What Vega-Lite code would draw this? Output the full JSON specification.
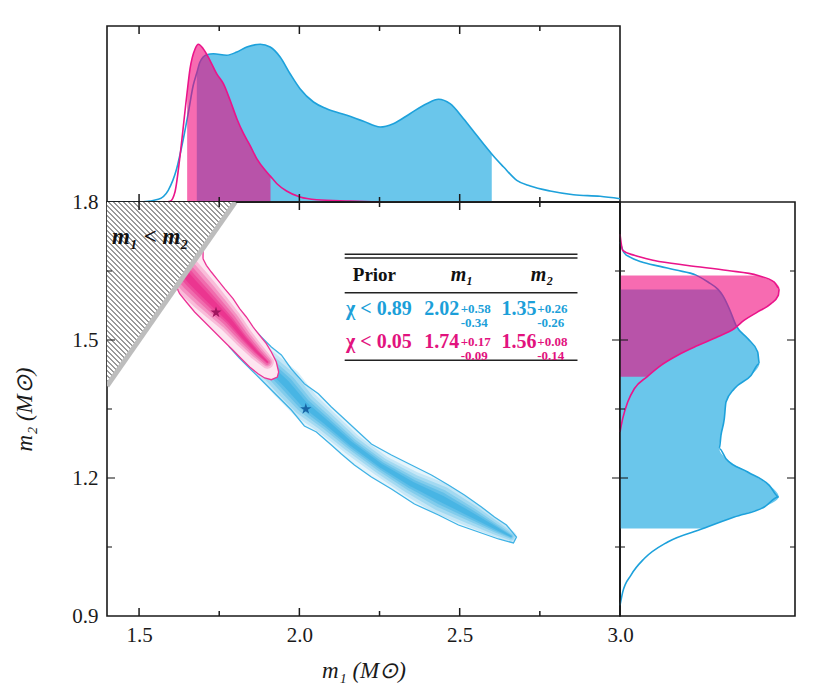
{
"$schema": "https://vega.github.io/schema/vega-lite/v6.json",
"padding": {"left": 12, "top": 24, "right": 5, "bottom": 5},
"bounds": "flush",
"spacing": 0,
"resolve": {"scale": {"x": "independent", "y": "independent"}},
"datasets": {
"blueTop": [{"m1":1.4,"d":0},{"m1":1.513,"d":0.3},{"m1":1.56,"d":2.7},{"m1":1.591,"d":11.7},{"m1":1.617,"d":33},{"m1":1.638,"d":63},{"m1":1.654,"d":90},{"m1":1.669,"d":116.7},{"m1":1.68,"d":129},{"m1":1.69,"d":140},{"m1":1.711,"d":147.3},{"m1":1.732,"d":148.3},{"m1":1.773,"d":146.7},{"m1":1.805,"d":150},{"m1":1.836,"d":155},{"m1":1.878,"d":157.7},{"m1":1.909,"d":155},{"m1":1.94,"d":145},{"m1":1.971,"d":128.3},{"m1":2.002,"d":113.3},{"m1":2.044,"d":100},{"m1":2.085,"d":93.3},{"m1":2.148,"d":86.7},{"m1":2.2,"d":80.7},{"m1":2.252,"d":75},{"m1":2.293,"d":78.3},{"m1":2.345,"d":88.3},{"m1":2.397,"d":98.3},{"m1":2.434,"d":102.7},{"m1":2.47,"d":98.3},{"m1":2.512,"d":83.3},{"m1":2.553,"d":66.7},{"m1":2.595,"d":50},{"m1":2.6,"d":48},{"m1":2.637,"d":35},{"m1":2.678,"d":21.7},{"m1":2.72,"d":16},{"m1":2.782,"d":11},{"m1":2.855,"d":7.3},{"m1":2.938,"d":5.7},{"m1":3.0,"d":3.3}],
"pinkTop": [{"m1":1.58,"d":0},{"m1":1.597,"d":0.7},{"m1":1.612,"d":10},{"m1":1.628,"d":46.7},{"m1":1.643,"d":90},{"m1":1.65,"d":110},{"m1":1.659,"d":133.3},{"m1":1.675,"d":153.3},{"m1":1.685,"d":157.7},{"m1":1.7,"d":153.3},{"m1":1.721,"d":141.7},{"m1":1.742,"d":128.3},{"m1":1.763,"d":118.3},{"m1":1.784,"d":101.7},{"m1":1.805,"d":83.3},{"m1":1.826,"d":68.3},{"m1":1.846,"d":56.7},{"m1":1.867,"d":43.3},{"m1":1.898,"d":30},{"m1":1.91,"d":25.6},{"m1":1.93,"d":18.3},{"m1":1.96,"d":11},{"m1":2.002,"d":5},{"m1":2.054,"d":2.3},{"m1":2.158,"d":1},{"m1":2.25,"d":0}],
"blueRight": [{"m2":0.923,"d":0},{"m2":0.952,"d":2.7},{"m2":0.989,"d":11},{"m2":1.025,"d":24.3},{"m2":1.061,"d":47.7},{"m2":1.09,"d":83},{"m2":1.115,"d":114.3},{"m2":1.137,"d":144.3},{"m2":1.159,"d":158.7},{"m2":1.184,"d":149.3},{"m2":1.213,"d":127.7},{"m2":1.242,"d":106},{"m2":1.264,"d":99.3},{"m2":1.293,"d":101},{"m2":1.329,"d":104.3},{"m2":1.365,"d":106},{"m2":1.394,"d":114.3},{"m2":1.423,"d":131},{"m2":1.449,"d":139.3},{"m2":1.474,"d":137.7},{"m2":1.503,"d":127.7},{"m2":1.532,"d":116},{"m2":1.568,"d":109.3},{"m2":1.597,"d":102.7},{"m2":1.61,"d":98},{"m2":1.626,"d":88},{"m2":1.641,"d":76},{"m2":1.652,"d":56},{"m2":1.66,"d":40},{"m2":1.67,"d":21},{"m2":1.68,"d":10},{"m2":1.69,"d":4},{"m2":1.713,"d":0}],
"pinkRight": [{"m2":1.3,"d":0},{"m2":1.329,"d":2.7},{"m2":1.365,"d":7.7},{"m2":1.394,"d":14.3},{"m2":1.42,"d":27},{"m2":1.445,"d":41},{"m2":1.467,"d":57.7},{"m2":1.488,"d":77.7},{"m2":1.507,"d":97.7},{"m2":1.525,"d":114.3},{"m2":1.543,"d":124.3},{"m2":1.561,"d":137.7},{"m2":1.579,"d":151},{"m2":1.597,"d":158.3},{"m2":1.612,"d":159.3},{"m2":1.626,"d":154.3},{"m2":1.64,"d":138},{"m2":1.651,"d":107.7},{"m2":1.662,"d":67.7},{"m2":1.673,"d":34.3},{"m2":1.684,"d":14.3},{"m2":1.695,"d":2.7},{"m2":1.713,"d":1},{"m2":1.73,"d":0}],
"blueC": [{"i":0,"m1":1.8097,"m2":1.5565},{"i":1,"m1":1.8502,"m2":1.5304},{"i":2,"m1":1.8814,"m2":1.5065},{"i":3,"m1":1.9126,"m2":1.4848},{"i":4,"m1":1.9438,"m2":1.4674},{"i":5,"m1":1.975,"m2":1.437},{"i":6,"m1":2.0156,"m2":1.405},{"i":7,"m1":2.0593,"m2":1.383},{"i":8,"m1":2.0998,"m2":1.3543},{"i":9,"m1":2.1404,"m2":1.3283},{"i":10,"m1":2.1841,"m2":1.3},{"i":11,"m1":2.2246,"m2":1.2739},{"i":12,"m1":2.2871,"m2":1.25},{"i":13,"m1":2.3494,"m2":1.2283},{"i":14,"m1":2.4119,"m2":1.2065},{"i":15,"m1":2.4649,"m2":1.1848},{"i":16,"m1":2.5148,"m2":1.163},{"i":17,"m1":2.5679,"m2":1.137},{"i":18,"m1":2.6084,"m2":1.1152},{"i":19,"m1":2.6459,"m2":1.0978},{"i":20,"m1":2.6771,"m2":1.0717},{"i":21,"m1":2.6677,"m2":1.0587},{"i":22,"m1":2.6209,"m2":1.0674},{"i":23,"m1":2.5585,"m2":1.0826},{"i":24,"m1":2.4961,"m2":1.0978},{"i":25,"m1":2.4337,"m2":1.1196},{"i":26,"m1":2.3588,"m2":1.1435},{"i":27,"m1":2.2871,"m2":1.1761},{"i":28,"m1":2.2246,"m2":1.2022},{"i":29,"m1":2.1716,"m2":1.2283},{"i":30,"m1":2.131,"m2":1.2522},{"i":31,"m1":2.0998,"m2":1.2717},{"i":32,"m1":2.0531,"m2":1.3},{"i":33,"m1":2.0156,"m2":1.313},{"i":34,"m1":1.975,"m2":1.3478},{"i":35,"m1":1.9282,"m2":1.3804},{"i":36,"m1":1.8877,"m2":1.4087},{"i":37,"m1":1.8502,"m2":1.4348},{"i":38,"m1":1.8128,"m2":1.4609},{"i":39,"m1":1.7816,"m2":1.4848},{"i":40,"m1":1.7722,"m2":1.5174},{"i":41,"m1":1.8097,"m2":1.5565}],
"pinkC": [{"i":0,"m1":1.6995,"m2":1.6768},{"i":1,"m1":1.71,"m2":1.6623},{"i":2,"m1":1.7254,"m2":1.6478},{"i":3,"m1":1.7463,"m2":1.6297},{"i":4,"m1":1.7669,"m2":1.6116},{"i":5,"m1":1.7931,"m2":1.5898},{"i":6,"m1":1.8137,"m2":1.568},{"i":7,"m1":1.8346,"m2":1.55},{"i":8,"m1":1.8555,"m2":1.5283},{"i":9,"m1":1.8761,"m2":1.5102},{"i":10,"m1":1.897,"m2":1.492},{"i":11,"m1":1.9126,"m2":1.4739},{"i":12,"m1":1.9282,"m2":1.4522},{"i":13,"m1":1.9354,"m2":1.4304},{"i":14,"m1":1.9313,"m2":1.4196},{"i":15,"m1":1.9126,"m2":1.4137},{"i":16,"m1":1.8917,"m2":1.4174},{"i":17,"m1":1.8711,"m2":1.4268},{"i":18,"m1":1.8449,"m2":1.4413},{"i":19,"m1":1.819,"m2":1.4594},{"i":20,"m1":1.7931,"m2":1.4776},{"i":21,"m1":1.7669,"m2":1.4957},{"i":22,"m1":1.7357,"m2":1.5174},{"i":23,"m1":1.7045,"m2":1.5391},{"i":24,"m1":1.6733,"m2":1.5609},{"i":25,"m1":1.6474,"m2":1.5826},{"i":26,"m1":1.6265,"m2":1.6007},{"i":27,"m1":1.6215,"m2":1.608},{"i":28,"m1":1.6,"m2":1.65},{"i":29,"m1":1.64,"m2":1.71},{"i":30,"m1":1.7,"m2":1.71},{"i":31,"m1":1.6995,"m2":1.6768}],
"blueR": [{"i":0,"m1":1.8195,"m2":1.5,"dens":0.5},{"i":1,"m1":1.897,"m2":1.447,"dens":0.8},{"i":2,"m1":1.959,"m2":1.405,"dens":1.0},{"i":3,"m1":2.0156,"m2":1.36,"dens":0.85},{"i":4,"m1":2.084,"m2":1.321,"dens":0.65},{"i":5,"m1":2.162,"m2":1.274,"dens":0.5},{"i":6,"m1":2.256,"m2":1.226,"dens":0.5},{"i":7,"m1":2.35,"m2":1.187,"dens":0.7},{"i":8,"m1":2.443,"m2":1.155,"dens":0.95},{"i":9,"m1":2.537,"m2":1.12,"dens":0.65},{"i":10,"m1":2.615,"m2":1.09,"dens":0.3},{"i":11,"m1":2.66,"m2":1.073,"dens":0.05}],
"pinkR": [{"i":0,"m1":1.63,"m2":1.655,"dens":1.0},{"i":1,"m1":1.665,"m2":1.627,"dens":1.0},{"i":2,"m1":1.705,"m2":1.598,"dens":0.9},{"i":3,"m1":1.741,"m2":1.572,"dens":0.75},{"i":4,"m1":1.7816,"m2":1.543,"dens":0.55},{"i":5,"m1":1.8253,"m2":1.506,"dens":0.35},{"i":6,"m1":1.866,"m2":1.475,"dens":0.2},{"i":7,"m1":1.9,"m2":1.452,"dens":0.05}],
"hatch": [{"i":0,"m1":1.4,"m2":1.4},{"i":1,"m1":1.4,"m2":1.8},{"i":2,"m1":1.8,"m2":1.8},{"i":3,"m1":1.4,"m2":1.4}],
"stars": [{"m1":2.02,"m2":1.35,"g":"blue"},{"m1":1.74,"m2":1.56,"g":"pink"}],
"xMaj": [{"m1":1.5},{"m1":2.0},{"m1":2.5}],
"xMin": [{"m1":1.75},{"m1":2.25},{"m1":2.75}],
"yMaj": [{"m2":1.2},{"m2":1.5}],
"yMin": [{"m2":1.05},{"m2":1.35},{"m2":1.65}]
},
"vconcat": [
{
"width": 513, "height": 176,
"layer": [
{"data": {"name": "blueTop"}, "transform": [{"filter": "datum.m1 >= 1.68 && datum.m1 <= 2.6"}],
 "mark": {"type": "area", "color": "#6AC6EB", "opacity": 1, "interpolate": "monotone"},
 "encoding": {"x": {"field": "m1", "type": "quantitative", "scale": {"domain": [1.4, 3.0], "nice": false, "zero": false}, "axis": null},
              "y": {"field": "d", "type": "quantitative", "scale": {"domain": [0, 176], "nice": false}, "axis": null}}},
{"data": {"name": "blueTop"},
 "mark": {"type": "line", "color": "#1DA1DB", "strokeWidth": 1.6, "interpolate": "monotone"},
 "encoding": {"x": {"field": "m1", "type": "quantitative"}, "y": {"field": "d", "type": "quantitative"}}},
{"data": {"name": "pinkTop"}, "transform": [{"filter": "datum.m1 >= 1.65 && datum.m1 <= 1.91"}],
 "mark": {"type": "area", "color": "#F10079", "opacity": 0.58, "interpolate": "monotone"},
 "encoding": {"x": {"field": "m1", "type": "quantitative"}, "y": {"field": "d", "type": "quantitative"}}},
{"data": {"name": "pinkTop"},
 "mark": {"type": "line", "color": "#EA148A", "strokeWidth": 1.6, "interpolate": "monotone"},
 "encoding": {"x": {"field": "m1", "type": "quantitative"}, "y": {"field": "d", "type": "quantitative"}}},
{"data": {"values": [{}]}, "mark": {"type": "rule", "color": "#1a1a1a", "strokeWidth": 1.6}, "encoding": {"y": {"datum": 0}}},
{"data": {"name": "xMaj"}, "mark": {"type": "rule", "color": "#1a1a1a", "strokeWidth": 1.5, "y2Offset": 8},
 "encoding": {"x": {"field": "m1", "type": "quantitative"}, "y": {"datum": 176}, "y2": {"datum": 176}}},
{"data": {"name": "xMin"}, "mark": {"type": "rule", "color": "#1a1a1a", "strokeWidth": 1.5, "y2Offset": 5},
 "encoding": {"x": {"field": "m1", "type": "quantitative"}, "y": {"datum": 176}, "y2": {"datum": 176}}}
]
},
{
"hconcat": [
{
"width": 513, "height": 414,
"resolve": {"scale": {"size": "independent"}},
"layer": [
{"data": {"name": "blueC"},
 "mark": {"type": "line", "fill": "#E6F5FC", "strokeOpacity": 0},
 "encoding": {
  "x": {"field": "m1", "type": "quantitative", "scale": {"domain": [1.4, 3.0], "nice": false, "zero": false},
        "axis": {"values": [1.5, 2, 2.5, 3], "format": ".1f", "labelFlush": false, "labelOverlap": false, "labelPadding": 8, "labelFontSize": 21, "title": "m₁ (M⊙)", "titleFontSize": 23, "titleFontStyle": "italic", "titleFontWeight": "normal", "titlePadding": 14}},
  "y": {"field": "m2", "type": "quantitative", "scale": {"domain": [0.9, 1.8], "nice": false, "zero": false},
        "axis": {"values": [0.9, 1.2, 1.5, 1.8], "format": ".1f", "labelFlush": false, "labelOverlap": false, "labelPadding": 9, "labelFontSize": 21, "title": "m₂ (M⊙)", "titleFontSize": 23, "titleFontStyle": "italic", "titleFontWeight": "normal", "titlePadding": 35}},
  "order": {"field": "i"}}},
{"data": {"name": "blueR"}, "mark": {"type": "trail", "color": "#1AA3DD", "opacity": 0.16},
 "encoding": {"x": {"field": "m1", "type": "quantitative"}, "y": {"field": "m2", "type": "quantitative"}, "order": {"field": "i"},
  "size": {"field": "dens", "type": "quantitative", "scale": {"domain": [0, 1], "range": [10, 33]}, "legend": null}}},
{"data": {"name": "blueR"}, "mark": {"type": "trail", "color": "#1AA3DD", "opacity": 0.2},
 "encoding": {"x": {"field": "m1", "type": "quantitative"}, "y": {"field": "m2", "type": "quantitative"}, "order": {"field": "i"},
  "size": {"field": "dens", "type": "quantitative", "scale": {"domain": [0, 1], "range": [7, 26]}, "legend": null}}},
{"data": {"name": "blueR"}, "mark": {"type": "trail", "color": "#1AA3DD", "opacity": 0.24},
 "encoding": {"x": {"field": "m1", "type": "quantitative"}, "y": {"field": "m2", "type": "quantitative"}, "order": {"field": "i"},
  "size": {"field": "dens", "type": "quantitative", "scale": {"domain": [0, 1], "range": [4, 19]}, "legend": null}}},
{"data": {"name": "blueR"}, "mark": {"type": "trail", "color": "#1AA3DD", "opacity": 0.3},
 "encoding": {"x": {"field": "m1", "type": "quantitative"}, "y": {"field": "m2", "type": "quantitative"}, "order": {"field": "i"},
  "size": {"field": "dens", "type": "quantitative", "scale": {"domain": [0, 1], "range": [2, 13]}, "legend": null}}},
{"data": {"name": "blueR"}, "mark": {"type": "trail", "color": "#1AA3DD", "opacity": 0.35},
 "encoding": {"x": {"field": "m1", "type": "quantitative"}, "y": {"field": "m2", "type": "quantitative"}, "order": {"field": "i"},
  "size": {"field": "dens", "type": "quantitative", "scale": {"domain": [0, 1], "range": [1, 7]}, "legend": null}}},
{"data": {"name": "blueC"}, "mark": {"type": "line", "color": "#3FB2E5", "strokeWidth": 1.3},
 "encoding": {"x": {"field": "m1", "type": "quantitative"}, "y": {"field": "m2", "type": "quantitative"}, "order": {"field": "i"}}},
{"data": {"name": "pinkC"}, "mark": {"type": "line", "fill": "#FDE6F1", "strokeOpacity": 0},
 "encoding": {"x": {"field": "m1", "type": "quantitative"}, "y": {"field": "m2", "type": "quantitative"}, "order": {"field": "i"}}},
{"data": {"name": "pinkR"}, "mark": {"type": "trail", "color": "#E9147F", "opacity": 0.2},
 "encoding": {"x": {"field": "m1", "type": "quantitative"}, "y": {"field": "m2", "type": "quantitative"}, "order": {"field": "i"},
  "size": {"field": "dens", "type": "quantitative", "scale": {"domain": [0, 1], "range": [12, 34]}, "legend": null}}},
{"data": {"name": "pinkR"}, "mark": {"type": "trail", "color": "#E9147F", "opacity": 0.25},
 "encoding": {"x": {"field": "m1", "type": "quantitative"}, "y": {"field": "m2", "type": "quantitative"}, "order": {"field": "i"},
  "size": {"field": "dens", "type": "quantitative", "scale": {"domain": [0, 1], "range": [8, 27]}, "legend": null}}},
{"data": {"name": "pinkR"}, "mark": {"type": "trail", "color": "#E9147F", "opacity": 0.3},
 "encoding": {"x": {"field": "m1", "type": "quantitative"}, "y": {"field": "m2", "type": "quantitative"}, "order": {"field": "i"},
  "size": {"field": "dens", "type": "quantitative", "scale": {"domain": [0, 1], "range": [5, 20]}, "legend": null}}},
{"data": {"name": "pinkR"}, "mark": {"type": "trail", "color": "#E9147F", "opacity": 0.35},
 "encoding": {"x": {"field": "m1", "type": "quantitative"}, "y": {"field": "m2", "type": "quantitative"}, "order": {"field": "i"},
  "size": {"field": "dens", "type": "quantitative", "scale": {"domain": [0, 1], "range": [2, 13]}, "legend": null}}},
{"data": {"name": "pinkR"}, "mark": {"type": "trail", "color": "#E9147F", "opacity": 0.4},
 "encoding": {"x": {"field": "m1", "type": "quantitative"}, "y": {"field": "m2", "type": "quantitative"}, "order": {"field": "i"},
  "size": {"field": "dens", "type": "quantitative", "scale": {"domain": [0, 1], "range": [1, 7]}, "legend": null}}},
{"data": {"name": "pinkC"}, "mark": {"type": "line", "color": "#EC3296", "strokeWidth": 1.3},
 "encoding": {"x": {"field": "m1", "type": "quantitative"}, "y": {"field": "m2", "type": "quantitative"}, "order": {"field": "i"}}},
{"data": {"name": "stars"},
 "mark": {"type": "point", "shape": "M0,-1L0.2245,-0.309L0.9511,-0.309L0.3633,0.118L0.5878,0.809L0,0.382L-0.5878,0.809L-0.3633,0.118L-0.9511,-0.309L-0.2245,-0.309Z", "filled": true, "size": 140, "opacity": 1},
 "encoding": {"x": {"field": "m1", "type": "quantitative"}, "y": {"field": "m2", "type": "quantitative"},
  "color": {"field": "g", "type": "nominal", "scale": {"domain": ["blue", "pink"], "range": ["#1765A6", "#A0165F"]}, "legend": null}}},
{"data": {"name": "hatch"},
 "mark": {"type": "line", "strokeOpacity": 0, "fill": {"gradient": "linear", "x1": 0, "y1": 1, "x2": 0.796, "y2": -0.142, "stops": [
{"offset":0,"color":"#9a9a9a"},{"offset":0.005,"color":"#9a9a9a"},{"offset":0.005,"color":"#fff"},{"offset":0.016,"color":"#fff"},
{"offset":0.016,"color":"#9a9a9a"},{"offset":0.021,"color":"#9a9a9a"},{"offset":0.021,"color":"#fff"},{"offset":0.032,"color":"#fff"},
{"offset":0.032,"color":"#9a9a9a"},{"offset":0.037,"color":"#9a9a9a"},{"offset":0.037,"color":"#fff"},{"offset":0.048,"color":"#fff"},
{"offset":0.048,"color":"#9a9a9a"},{"offset":0.053,"color":"#9a9a9a"},{"offset":0.053,"color":"#fff"},{"offset":0.064,"color":"#fff"},
{"offset":0.064,"color":"#9a9a9a"},{"offset":0.069,"color":"#9a9a9a"},{"offset":0.069,"color":"#fff"},{"offset":0.08,"color":"#fff"},
{"offset":0.08,"color":"#9a9a9a"},{"offset":0.085,"color":"#9a9a9a"},{"offset":0.085,"color":"#fff"},{"offset":0.096,"color":"#fff"},
{"offset":0.096,"color":"#9a9a9a"},{"offset":0.101,"color":"#9a9a9a"},{"offset":0.101,"color":"#fff"},{"offset":0.112,"color":"#fff"},
{"offset":0.112,"color":"#9a9a9a"},{"offset":0.117,"color":"#9a9a9a"},{"offset":0.117,"color":"#fff"},{"offset":0.128,"color":"#fff"},
{"offset":0.128,"color":"#9a9a9a"},{"offset":0.133,"color":"#9a9a9a"},{"offset":0.133,"color":"#fff"},{"offset":0.144,"color":"#fff"},
{"offset":0.144,"color":"#9a9a9a"},{"offset":0.149,"color":"#9a9a9a"},{"offset":0.149,"color":"#fff"},{"offset":0.16,"color":"#fff"},
{"offset":0.16,"color":"#9a9a9a"},{"offset":0.165,"color":"#9a9a9a"},{"offset":0.165,"color":"#fff"},{"offset":0.176,"color":"#fff"},
{"offset":0.176,"color":"#9a9a9a"},{"offset":0.181,"color":"#9a9a9a"},{"offset":0.181,"color":"#fff"},{"offset":0.192,"color":"#fff"},
{"offset":0.192,"color":"#9a9a9a"},{"offset":0.197,"color":"#9a9a9a"},{"offset":0.197,"color":"#fff"},{"offset":0.208,"color":"#fff"},
{"offset":0.208,"color":"#9a9a9a"},{"offset":0.213,"color":"#9a9a9a"},{"offset":0.213,"color":"#fff"},{"offset":0.224,"color":"#fff"},
{"offset":0.224,"color":"#9a9a9a"},{"offset":0.229,"color":"#9a9a9a"},{"offset":0.229,"color":"#fff"},{"offset":0.24,"color":"#fff"},
{"offset":0.24,"color":"#9a9a9a"},{"offset":0.245,"color":"#9a9a9a"},{"offset":0.245,"color":"#fff"},{"offset":0.256,"color":"#fff"},
{"offset":0.256,"color":"#9a9a9a"},{"offset":0.261,"color":"#9a9a9a"},{"offset":0.261,"color":"#fff"},{"offset":0.272,"color":"#fff"},
{"offset":0.272,"color":"#9a9a9a"},{"offset":0.277,"color":"#9a9a9a"},{"offset":0.277,"color":"#fff"},{"offset":0.288,"color":"#fff"},
{"offset":0.288,"color":"#9a9a9a"},{"offset":0.293,"color":"#9a9a9a"},{"offset":0.293,"color":"#fff"},{"offset":0.304,"color":"#fff"},
{"offset":0.304,"color":"#9a9a9a"},{"offset":0.309,"color":"#9a9a9a"},{"offset":0.309,"color":"#fff"},{"offset":0.32,"color":"#fff"},
{"offset":0.32,"color":"#9a9a9a"},{"offset":0.325,"color":"#9a9a9a"},{"offset":0.325,"color":"#fff"},{"offset":0.336,"color":"#fff"},
{"offset":0.336,"color":"#9a9a9a"},{"offset":0.341,"color":"#9a9a9a"},{"offset":0.341,"color":"#fff"},{"offset":0.352,"color":"#fff"},
{"offset":0.352,"color":"#9a9a9a"},{"offset":0.357,"color":"#9a9a9a"},{"offset":0.357,"color":"#fff"},{"offset":0.368,"color":"#fff"},
{"offset":0.368,"color":"#9a9a9a"},{"offset":0.373,"color":"#9a9a9a"},{"offset":0.373,"color":"#fff"},{"offset":0.384,"color":"#fff"},
{"offset":0.384,"color":"#9a9a9a"},{"offset":0.389,"color":"#9a9a9a"},{"offset":0.389,"color":"#fff"},{"offset":0.4,"color":"#fff"},
{"offset":0.4,"color":"#9a9a9a"},{"offset":0.405,"color":"#9a9a9a"},{"offset":0.405,"color":"#fff"},{"offset":0.416,"color":"#fff"},
{"offset":0.416,"color":"#9a9a9a"},{"offset":0.421,"color":"#9a9a9a"},{"offset":0.421,"color":"#fff"},{"offset":0.432,"color":"#fff"},
{"offset":0.432,"color":"#9a9a9a"},{"offset":0.437,"color":"#9a9a9a"},{"offset":0.437,"color":"#fff"},{"offset":0.448,"color":"#fff"},
{"offset":0.448,"color":"#9a9a9a"},{"offset":0.453,"color":"#9a9a9a"},{"offset":0.453,"color":"#fff"},{"offset":0.464,"color":"#fff"},
{"offset":0.464,"color":"#9a9a9a"},{"offset":0.469,"color":"#9a9a9a"},{"offset":0.469,"color":"#fff"},{"offset":0.48,"color":"#fff"},
{"offset":0.48,"color":"#9a9a9a"},{"offset":0.485,"color":"#9a9a9a"},{"offset":0.485,"color":"#fff"},{"offset":0.496,"color":"#fff"},
{"offset":0.496,"color":"#9a9a9a"},{"offset":0.501,"color":"#9a9a9a"},{"offset":0.501,"color":"#fff"},{"offset":0.512,"color":"#fff"},
{"offset":0.512,"color":"#9a9a9a"},{"offset":0.517,"color":"#9a9a9a"},{"offset":0.517,"color":"#fff"},{"offset":0.528,"color":"#fff"},
{"offset":0.528,"color":"#9a9a9a"},{"offset":0.533,"color":"#9a9a9a"},{"offset":0.533,"color":"#fff"},{"offset":0.544,"color":"#fff"},
{"offset":0.544,"color":"#9a9a9a"},{"offset":0.549,"color":"#9a9a9a"},{"offset":0.549,"color":"#fff"},{"offset":0.56,"color":"#fff"},
{"offset":0.56,"color":"#9a9a9a"},{"offset":0.565,"color":"#9a9a9a"},{"offset":0.565,"color":"#fff"},{"offset":0.576,"color":"#fff"},
{"offset":0.576,"color":"#9a9a9a"},{"offset":0.581,"color":"#9a9a9a"},{"offset":0.581,"color":"#fff"},{"offset":0.592,"color":"#fff"},
{"offset":0.592,"color":"#9a9a9a"},{"offset":0.597,"color":"#9a9a9a"},{"offset":0.597,"color":"#fff"},{"offset":0.608,"color":"#fff"},
{"offset":0.608,"color":"#9a9a9a"},{"offset":0.613,"color":"#9a9a9a"},{"offset":0.613,"color":"#fff"},{"offset":0.624,"color":"#fff"},
{"offset":0.624,"color":"#9a9a9a"},{"offset":0.629,"color":"#9a9a9a"},{"offset":0.629,"color":"#fff"},{"offset":0.64,"color":"#fff"},
{"offset":0.64,"color":"#9a9a9a"},{"offset":0.645,"color":"#9a9a9a"},{"offset":0.645,"color":"#fff"},{"offset":0.656,"color":"#fff"},
{"offset":0.656,"color":"#9a9a9a"},{"offset":0.661,"color":"#9a9a9a"},{"offset":0.661,"color":"#fff"},{"offset":0.672,"color":"#fff"},
{"offset":0.672,"color":"#9a9a9a"},{"offset":0.677,"color":"#9a9a9a"},{"offset":0.677,"color":"#fff"},{"offset":0.688,"color":"#fff"},
{"offset":0.688,"color":"#9a9a9a"},{"offset":0.693,"color":"#9a9a9a"},{"offset":0.693,"color":"#fff"},{"offset":0.704,"color":"#fff"},
{"offset":0.704,"color":"#9a9a9a"},{"offset":0.709,"color":"#9a9a9a"},{"offset":0.709,"color":"#fff"},{"offset":0.72,"color":"#fff"},
{"offset":0.72,"color":"#9a9a9a"},{"offset":0.725,"color":"#9a9a9a"},{"offset":0.725,"color":"#fff"},{"offset":0.736,"color":"#fff"},
{"offset":0.736,"color":"#9a9a9a"},{"offset":0.741,"color":"#9a9a9a"},{"offset":0.741,"color":"#fff"},{"offset":0.752,"color":"#fff"},
{"offset":0.752,"color":"#9a9a9a"},{"offset":0.757,"color":"#9a9a9a"},{"offset":0.757,"color":"#fff"},{"offset":0.768,"color":"#fff"},
{"offset":0.768,"color":"#9a9a9a"},{"offset":0.773,"color":"#9a9a9a"},{"offset":0.773,"color":"#fff"},{"offset":0.784,"color":"#fff"},
{"offset":0.784,"color":"#9a9a9a"},{"offset":0.789,"color":"#9a9a9a"},{"offset":0.789,"color":"#fff"},{"offset":0.8,"color":"#fff"},
{"offset":0.8,"color":"#9a9a9a"},{"offset":0.805,"color":"#9a9a9a"},{"offset":0.805,"color":"#fff"},{"offset":0.816,"color":"#fff"},
{"offset":0.816,"color":"#9a9a9a"},{"offset":0.821,"color":"#9a9a9a"},{"offset":0.821,"color":"#fff"},{"offset":0.832,"color":"#fff"},
{"offset":0.832,"color":"#9a9a9a"},{"offset":0.837,"color":"#9a9a9a"},{"offset":0.837,"color":"#fff"},{"offset":0.848,"color":"#fff"},
{"offset":0.848,"color":"#9a9a9a"},{"offset":0.853,"color":"#9a9a9a"},{"offset":0.853,"color":"#fff"},{"offset":0.864,"color":"#fff"},
{"offset":0.864,"color":"#9a9a9a"},{"offset":0.869,"color":"#9a9a9a"},{"offset":0.869,"color":"#fff"},{"offset":0.88,"color":"#fff"},
{"offset":0.88,"color":"#9a9a9a"},{"offset":0.885,"color":"#9a9a9a"},{"offset":0.885,"color":"#fff"},{"offset":0.896,"color":"#fff"},
{"offset":0.896,"color":"#9a9a9a"},{"offset":0.901,"color":"#9a9a9a"},{"offset":0.901,"color":"#fff"},{"offset":0.912,"color":"#fff"},
{"offset":0.912,"color":"#9a9a9a"},{"offset":0.917,"color":"#9a9a9a"},{"offset":0.917,"color":"#fff"},{"offset":0.928,"color":"#fff"},
{"offset":0.928,"color":"#9a9a9a"},{"offset":0.933,"color":"#9a9a9a"},{"offset":0.933,"color":"#fff"},{"offset":0.944,"color":"#fff"},
{"offset":0.944,"color":"#9a9a9a"},{"offset":0.949,"color":"#9a9a9a"},{"offset":0.949,"color":"#fff"},{"offset":0.96,"color":"#fff"},
{"offset":0.96,"color":"#9a9a9a"},{"offset":0.965,"color":"#9a9a9a"},{"offset":0.965,"color":"#fff"},{"offset":0.976,"color":"#fff"},
{"offset":0.976,"color":"#9a9a9a"},{"offset":0.981,"color":"#9a9a9a"},{"offset":0.981,"color":"#fff"},{"offset":0.992,"color":"#fff"},
{"offset":0.992,"color":"#9a9a9a"},{"offset":0.997,"color":"#9a9a9a"},{"offset":0.997,"color":"#fff"},{"offset":1,"color":"#fff"}
]}},
 "encoding": {"x": {"field": "m1", "type": "quantitative"}, "y": {"field": "m2", "type": "quantitative"}, "order": {"field": "i"}}},
{"data": {"values": [{}]}, "mark": {"type": "rule", "color": "#BDBDBD", "strokeWidth": 5, "clip": true},
 "encoding": {"x": {"datum": 1.4}, "y": {"datum": 1.4}, "x2": {"datum": 1.8}, "y2": {"datum": 1.8}}},
{"data": {"values": [{}]}, "mark": {"type": "text", "text": "m₁ < m₂", "font": "Liberation Serif", "fontSize": 23, "fontWeight": "bold", "fontStyle": "italic", "color": "#111"},
 "encoding": {"x": {"datum": 1.535}, "y": {"datum": 1.724}}},
{"data": {"values": [{}]}, "mark": {"type": "rule", "color": "#222", "strokeWidth": 1.4}, "encoding": {"x": {"datum": 2.1413}, "x2": {"datum": 2.8674}, "y": {"datum": 1.6863}}},
{"data": {"values": [{}]}, "mark": {"type": "rule", "color": "#222", "strokeWidth": 1.4}, "encoding": {"x": {"datum": 2.1413}, "x2": {"datum": 2.8674}, "y": {"datum": 1.6783}}},
{"data": {"values": [{}]}, "mark": {"type": "rule", "color": "#222", "strokeWidth": 1.4}, "encoding": {"x": {"datum": 2.1413}, "x2": {"datum": 2.8674}, "y": {"datum": 1.6028}}},
{"data": {"values": [{}]}, "mark": {"type": "rule", "color": "#222", "strokeWidth": 1.4}, "encoding": {"x": {"datum": 2.1413}, "x2": {"datum": 2.8674}, "y": {"datum": 1.4559}}},
{"data": {"values": [{}]}, "mark": {"type": "text", "text": "Prior", "font": "Liberation Serif", "fontSize": 19, "fontWeight": "bold", "color": "#111", "baseline": "middle"},
 "encoding": {"x": {"datum": 2.234}, "y": {"datum": 1.6413}}},
{"data": {"values": [{}]}, "mark": {"type": "text", "text": "m₁", "font": "Liberation Serif", "fontSize": 20, "fontWeight": "bold", "fontStyle": "italic", "color": "#111", "baseline": "middle"},
 "encoding": {"x": {"datum": 2.507}, "y": {"datum": 1.6413}}},
{"data": {"values": [{}]}, "mark": {"type": "text", "text": "m₂", "font": "Liberation Serif", "fontSize": 20, "fontWeight": "bold", "fontStyle": "italic", "color": "#111", "baseline": "middle"},
 "encoding": {"x": {"datum": 2.757}, "y": {"datum": 1.6413}}},
{"data": {"values": [{}]}, "mark": {"type": "text", "text": "χ < 0.89", "font": "Liberation Serif", "fontSize": 20, "fontWeight": "bold", "color": "#1C9FD9", "baseline": "middle"},
 "encoding": {"x": {"datum": 2.248}, "y": {"datum": 1.568}}},
{"data": {"values": [{}]}, "mark": {"type": "text", "text": "2.02", "font": "Liberation Serif", "fontSize": 20, "fontWeight": "bold", "color": "#1C9FD9", "baseline": "middle", "align": "right"},
 "encoding": {"x": {"datum": 2.499}, "y": {"datum": 1.568}}},
{"data": {"values": [{}]}, "mark": {"type": "text", "text": ["+0.58", "-0.34"], "lineHeight": 14.5, "font": "Liberation Serif", "fontSize": 13, "fontWeight": "bold", "color": "#1C9FD9", "baseline": "middle", "align": "left"},
 "encoding": {"x": {"datum": 2.503}, "y": {"datum": 1.568}}},
{"data": {"values": [{}]}, "mark": {"type": "text", "text": "1.35", "font": "Liberation Serif", "fontSize": 20, "fontWeight": "bold", "color": "#1C9FD9", "baseline": "middle", "align": "right"},
 "encoding": {"x": {"datum": 2.7395}, "y": {"datum": 1.568}}},
{"data": {"values": [{}]}, "mark": {"type": "text", "text": ["+0.26", "-0.26"], "lineHeight": 14.5, "font": "Liberation Serif", "fontSize": 13, "fontWeight": "bold", "color": "#1C9FD9", "baseline": "middle", "align": "left"},
 "encoding": {"x": {"datum": 2.742}, "y": {"datum": 1.568}}},
{"data": {"values": [{}]}, "mark": {"type": "text", "text": "χ < 0.05", "font": "Liberation Serif", "fontSize": 20, "fontWeight": "bold", "color": "#E2127E", "baseline": "middle"},
 "encoding": {"x": {"datum": 2.248}, "y": {"datum": 1.4957}}},
{"data": {"values": [{}]}, "mark": {"type": "text", "text": "1.74", "font": "Liberation Serif", "fontSize": 20, "fontWeight": "bold", "color": "#E2127E", "baseline": "middle", "align": "right"},
 "encoding": {"x": {"datum": 2.499}, "y": {"datum": 1.4957}}},
{"data": {"values": [{}]}, "mark": {"type": "text", "text": ["+0.17", "-0.09"], "lineHeight": 14.5, "font": "Liberation Serif", "fontSize": 13, "fontWeight": "bold", "color": "#E2127E", "baseline": "middle", "align": "left"},
 "encoding": {"x": {"datum": 2.503}, "y": {"datum": 1.4957}}},
{"data": {"values": [{}]}, "mark": {"type": "text", "text": "1.56", "font": "Liberation Serif", "fontSize": 20, "fontWeight": "bold", "color": "#E2127E", "baseline": "middle", "align": "right"},
 "encoding": {"x": {"datum": 2.7395}, "y": {"datum": 1.4957}}},
{"data": {"values": [{}]}, "mark": {"type": "text", "text": ["+0.08", "-0.14"], "lineHeight": 14.5, "font": "Liberation Serif", "fontSize": 13, "fontWeight": "bold", "color": "#E2127E", "baseline": "middle", "align": "left"},
 "encoding": {"x": {"datum": 2.742}, "y": {"datum": 1.4957}}},
{"data": {"name": "xMaj"}, "mark": {"type": "rule", "color": "#1a1a1a", "strokeWidth": 1.5, "y2Offset": -8},
 "encoding": {"x": {"field": "m1", "type": "quantitative"}, "y": {"datum": 0.9}, "y2": {"datum": 0.9}}},
{"data": {"name": "xMin"}, "mark": {"type": "rule", "color": "#1a1a1a", "strokeWidth": 1.5, "y2Offset": -5},
 "encoding": {"x": {"field": "m1", "type": "quantitative"}, "y": {"datum": 0.9}, "y2": {"datum": 0.9}}},
{"data": {"name": "xMaj"}, "mark": {"type": "rule", "color": "#1a1a1a", "strokeWidth": 1.5, "yOffset": -8, "y2Offset": 8},
 "encoding": {"x": {"field": "m1", "type": "quantitative"}, "y": {"datum": 1.8}, "y2": {"datum": 1.8}}},
{"data": {"name": "xMin"}, "mark": {"type": "rule", "color": "#1a1a1a", "strokeWidth": 1.5, "yOffset": -5, "y2Offset": 5},
 "encoding": {"x": {"field": "m1", "type": "quantitative"}, "y": {"datum": 1.8}, "y2": {"datum": 1.8}}},
{"data": {"name": "yMaj"}, "mark": {"type": "tick", "orient": "horizontal", "size": 16, "thickness": 1.5, "color": "#1a1a1a", "clip": true},
 "encoding": {"y": {"field": "m2", "type": "quantitative"}, "x": {"datum": 1.4}}},
{"data": {"name": "yMin"}, "mark": {"type": "tick", "orient": "horizontal", "size": 10, "thickness": 1.5, "color": "#1a1a1a", "clip": true},
 "encoding": {"y": {"field": "m2", "type": "quantitative"}, "x": {"datum": 1.4}}}
]
},
{
"width": 175, "height": 414,
"layer": [
{"data": {"name": "blueRight"}, "transform": [{"filter": "datum.m2 >= 1.09 && datum.m2 <= 1.61"}],
 "mark": {"type": "area", "orient": "horizontal", "color": "#6AC6EB", "opacity": 1, "interpolate": "monotone"},
 "encoding": {"x": {"field": "d", "type": "quantitative", "scale": {"domain": [0, 175], "nice": false}, "axis": null},
              "y": {"field": "m2", "type": "quantitative", "scale": {"domain": [0.9, 1.8], "nice": false, "zero": false}, "axis": null}}},
{"data": {"name": "blueRight"},
 "mark": {"type": "line", "orient": "horizontal", "color": "#1DA1DB", "strokeWidth": 1.6, "interpolate": "monotone"},
 "encoding": {"x": {"field": "d", "type": "quantitative"}, "y": {"field": "m2", "type": "quantitative"}, "order": {"field": "m2"}}},
{"data": {"name": "pinkRight"}, "transform": [{"filter": "datum.m2 >= 1.42 && datum.m2 <= 1.64"}],
 "mark": {"type": "area", "orient": "horizontal", "color": "#F10079", "opacity": 0.58, "interpolate": "monotone"},
 "encoding": {"x": {"field": "d", "type": "quantitative"}, "y": {"field": "m2", "type": "quantitative"}}},
{"data": {"name": "pinkRight"},
 "mark": {"type": "line", "orient": "horizontal", "color": "#EA148A", "strokeWidth": 1.6, "interpolate": "monotone"},
 "encoding": {"x": {"field": "d", "type": "quantitative"}, "y": {"field": "m2", "type": "quantitative"}, "order": {"field": "m2"}}},
{"data": {"values": [{}]}, "mark": {"type": "rule", "color": "#1a1a1a", "strokeWidth": 1.6}, "encoding": {"x": {"datum": 0}}},
{"data": {"name": "yMaj"}, "mark": {"type": "tick", "orient": "horizontal", "size": 16, "thickness": 1.5, "color": "#1a1a1a"},
 "encoding": {"y": {"field": "m2", "type": "quantitative"}, "x": {"datum": 0}}},
{"data": {"name": "yMin"}, "mark": {"type": "tick", "orient": "horizontal", "size": 10, "thickness": 1.5, "color": "#1a1a1a"},
 "encoding": {"y": {"field": "m2", "type": "quantitative"}, "x": {"datum": 0}}},
{"data": {"name": "yMaj"}, "mark": {"type": "tick", "orient": "horizontal", "size": 16, "thickness": 1.5, "color": "#1a1a1a", "clip": true},
 "encoding": {"y": {"field": "m2", "type": "quantitative"}, "x": {"datum": 175}}},
{"data": {"name": "yMin"}, "mark": {"type": "tick", "orient": "horizontal", "size": 10, "thickness": 1.5, "color": "#1a1a1a", "clip": true},
 "encoding": {"y": {"field": "m2", "type": "quantitative"}, "x": {"datum": 175}}}
]
}
],
"spacing": 0,
"bounds": "flush",
"resolve": {"scale": {"x": "independent", "y": "independent"}}
}
],
"config": {
"font": "Liberation Serif",
"view": {"stroke": "#1a1a1a", "strokeWidth": 1.6},
"axis": {"grid": false, "ticks": false, "domain": false, "labelFont": "Liberation Serif", "titleFont": "Liberation Serif", "labelColor": "#1a1a1a", "titleColor": "#1a1a1a"}
}
}
